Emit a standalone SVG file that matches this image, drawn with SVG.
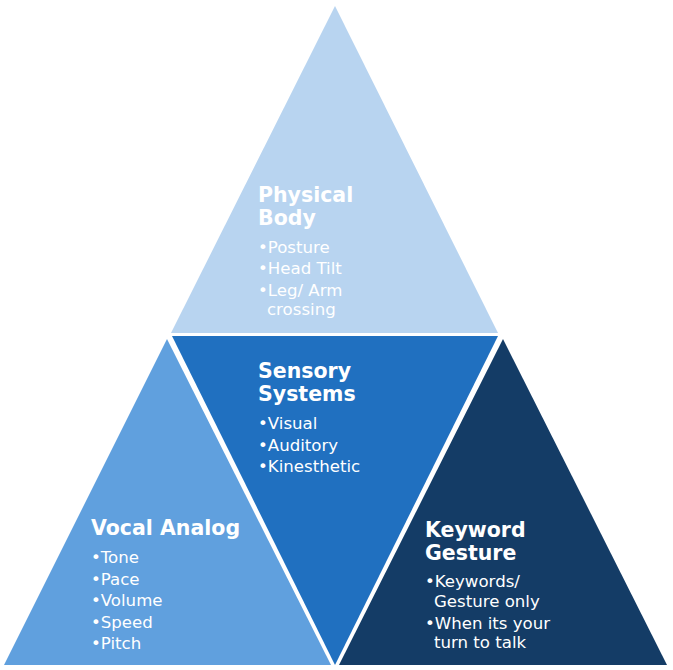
<svg xmlns="http://www.w3.org/2000/svg" width="673" height="670" viewBox="0 0 673 670">
  <style>
    .title { font-family: "DejaVu Sans", Verdana, sans-serif; font-weight: bold; font-size: 20.5px; fill: #ffffff; }
    .item { font-family: "DejaVu Sans", Verdana, sans-serif; font-size: 16.6px; fill: #ffffff; }
  </style>
  <rect width="673" height="670" fill="#ffffff"/>
  <g id="physical-body">
    <polygon points="335,6 171,333 498,333" fill="#B8D4F0"/>
    <text class="title" x="258" y="202">Physical</text>
    <text class="title" x="258" y="225">Body</text>
    <text class="item" x="258" y="253">•Posture</text>
    <text class="item" x="258" y="274">•Head Tilt</text>
    <text class="item" x="258" y="296">•Leg/ Arm</text>
    <text class="item" x="267" y="315">crossing</text>
  </g>
  <g id="sensory-systems">
    <polygon points="172,336 498,336 335,665" fill="#2070C0"/>
    <text class="title" x="258" y="378">Sensory</text>
    <text class="title" x="258" y="401">Systems</text>
    <text class="item" x="258" y="429">•Visual</text>
    <text class="item" x="258" y="451">•Auditory</text>
    <text class="item" x="258" y="472">•Kinesthetic</text>
  </g>
  <g id="vocal-analog">
    <polygon points="167,339 4,665 331,665" fill="#60A0DE"/>
    <text class="title" x="91" y="535">Vocal Analog</text>
    <text class="item" x="91" y="563">•Tone</text>
    <text class="item" x="91" y="585">•Pace</text>
    <text class="item" x="91" y="606">•Volume</text>
    <text class="item" x="91" y="628">•Speed</text>
    <text class="item" x="91" y="649">•Pitch</text>
  </g>
  <g id="keyword-gesture">
    <polygon points="503,339 339,665 667,665" fill="#143C66"/>
    <text class="title" x="425" y="537">Keyword</text>
    <text class="title" x="425" y="560">Gesture</text>
    <text class="item" x="425" y="587">•Keywords/</text>
    <text class="item" x="434" y="607">Gesture only</text>
    <text class="item" x="425" y="629">•When its your</text>
    <text class="item" x="434" y="648">turn to talk</text>
  </g>
  <g id="connectors"/>
</svg>
